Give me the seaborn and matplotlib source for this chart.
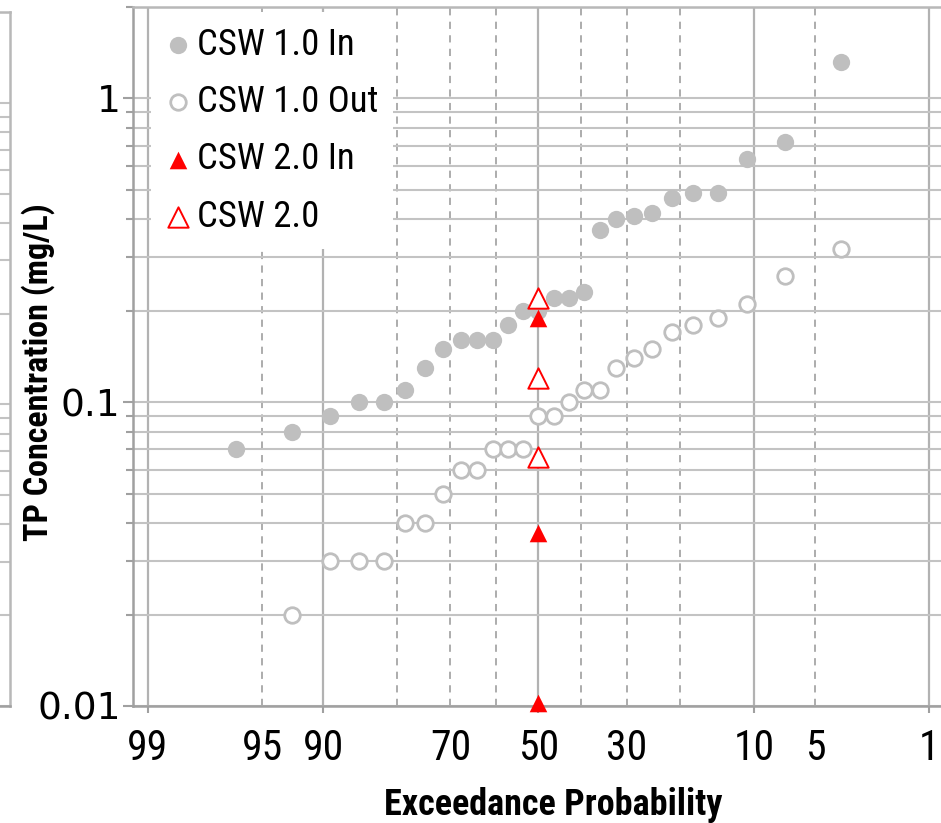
from statistics import NormalDist

import matplotlib.pyplot as plt
import matplotlib.ticker as mticker
import numpy as np
import pandas as pd
import seaborn as sns

# CSW 1.0 TP samples sorted low -> high (nan = below the plotted range)
csw1_in = [0.07, 0.08, 0.09, 0.10, 0.10, 0.11, 0.13, 0.15, 0.16, 0.16, 0.16, 0.18, 0.20, 0.20,
           0.22, 0.22, 0.23, 0.37, 0.40, 0.41, 0.42, 0.47, 0.49, 0.49, 0.63, 0.72, 1.32]
csw1_out = [np.nan, 0.02, 0.03, 0.03, 0.03, 0.04, 0.04, 0.05, 0.06, 0.06, 0.07, 0.07, 0.07, 0.09,
            0.09, 0.10, 0.11, 0.11, 0.13, 0.14, 0.15, 0.17, 0.18, 0.19, 0.21, 0.26, 0.32]
# CSW 2.0 samples, all put at the median
csw2_in = [0.0102, 0.037, 0.19]
csw2_out = [0.066, 0.12, 0.22]
csw2_prob = [50, 50, 50]

prob_major = [99, 90, 50, 10, 1]
prob_minor = [95, 80, 70, 60, 40, 30, 20, 5]
prob_labels = [99, 95, 90, 70, 50, 30, 10, 5, 1]

GRAY = "#BFBFBF"
RED = "#FF0000"
GRID = "#C3C3C3"
AXIS = "#A0A0A0"

_norm = NormalDist()


def _z(v):
    if np.isnan(v):
        return np.nan
    v = min(max(v, 1e-6), 100 - 1e-6)
    return _norm.inv_cdf(v / 100)


def _p(v):
    if np.isnan(v):
        return np.nan
    return 100 * _norm.cdf(v)


prob_to_z = np.vectorize(_z, otypes=[float])
z_to_prob = np.vectorize(_p, otypes=[float])


def exceedance(values):
    # Weibull plotting position
    ranks = np.arange(1, len(values) + 1)
    return 100 * (1 - ranks / (len(values) + 1))


def fmt_prob(v, pos=None):
    return f"{v:g}" if round(v) in prob_labels else ""


def style_axes(a, major, minor):
    a.set_xscale("function", functions=(prob_to_z, z_to_prob))
    a.set_yscale("log")
    a.set_xlim(99.21, 0.79)
    a.set_ylim(0.01, 2)
    a.xaxis.set_major_locator(mticker.FixedLocator(major))
    a.xaxis.set_minor_locator(mticker.FixedLocator(minor))
    a.xaxis.set_major_formatter(mticker.FuncFormatter(fmt_prob))
    a.xaxis.set_minor_formatter(mticker.FuncFormatter(fmt_prob))
    a.yaxis.set_major_formatter(mticker.FuncFormatter(lambda v, pos: f"{v:g}"))
    a.yaxis.set_minor_formatter(mticker.NullFormatter())
    a.grid(which="both", axis="y", color=GRID, lw=1.5)
    a.grid(which="major", axis="x", color="#B2B2B2", lw=1.6)
    a.grid(which="minor", axis="x", color="#A6A6A6", lw=1.3, ls=(0, (4, 3.5)))
    a.set_axisbelow(True)
    for side, sp in a.spines.items():
        sp.set_visible(True)
        sp.set_color(AXIS if side in ("left", "bottom") else "#B8B8B8")
        sp.set_linewidth(1.8)
    a.tick_params(axis="y", which="major", direction="out", length=7, width=1.5, color=AXIS,
                  left=True, labelsize=27, pad=2, labelcolor="black", labelfontfamily="DejaVu Sans")
    a.tick_params(axis="y", which="minor", direction="out", length=5, width=1.5, color=AXIS, left=True)
    a.tick_params(axis="x", which="major", direction="out", length=5, width=1.5, color=AXIS,
                  bottom=True, labelsize=30, pad=11, labelcolor="black")
    a.tick_params(axis="x", which="minor", length=0, bottom=True, labelsize=30, pad=16,
                  labelcolor="black")


sns.set_theme(style="white")
plt.rcParams["font.family"] = ["Roboto Condensed", "Liberation Sans Narrow", "Lato", "DejaVu Sans"]

W, H = 941, 823
fig = plt.figure(figsize=(W / 100, H / 100), dpi=100)
# neighbouring chart, cut off at the left edge of the screenshot
ax_prev = fig.add_axes([(133 - 934) / W, 1 - 706 / H, (944 - 133) / W, (706 - 12) / H])
ax = fig.add_axes([133 / W, 1 - 706 / H, (944 - 133) / W, (706 - 7) / H])

style_axes(ax_prev, [1], [])
ax_prev.tick_params(labelleft=False)
style_axes(ax, prob_major, prob_minor)

df_in = pd.DataFrame({"prob": exceedance(csw1_in), "conc": csw1_in})
df_out = pd.DataFrame({"prob": exceedance(csw1_out), "conc": csw1_out}).dropna()
df2_in = pd.DataFrame({"prob": csw2_prob, "conc": csw2_in})
df2_out = pd.DataFrame({"prob": csw2_prob, "conc": csw2_out})

sns.scatterplot(data=df_in, x="prob", y="conc", ax=ax, marker="o", s=155, color=GRAY,
                edgecolor=GRAY, linewidth=0, label="CSW 1.0 In", zorder=3)
sns.scatterplot(data=df_out, x="prob", y="conc", ax=ax, marker="o", s=125, facecolor="white",
                edgecolor=GRAY, linewidth=2.0, label="CSW 1.0 Out", zorder=3)
sns.scatterplot(data=df2_in, x="prob", y="conc", ax=ax, marker="^", s=160, color=RED,
                edgecolor=RED, linewidth=0, label="CSW 2.0 In", zorder=4, clip_on=False)
sns.scatterplot(data=df2_out, x="prob", y="conc", ax=ax, marker="^", s=215, facecolor="white",
                edgecolor=RED, linewidth=1.4, label="CSW 2.0", zorder=4)

ax.set_xlim(99.21, 0.79)
ax.set_ylim(0.01, 2)

ax.set_xlabel("Exceedance Probability", fontsize=26, fontweight="bold", color="black", va="center")
ax.xaxis.set_label_coords(0.518, -0.1416)
ax.set_ylabel("TP Concentration (mg/L)", fontsize=24.5, fontweight="bold", color="black", va="center")
ax.yaxis.set_label_coords(-0.117, 0.477)

leg = ax.legend(loc="upper left", bbox_to_anchor=(0.022, 0.993), borderaxespad=0, frameon=True,
                fancybox=False, framealpha=1, facecolor="white", edgecolor="none", fontsize=26.5,
                handlelength=0.7, handletextpad=0.15, labelspacing=0.58, borderpad=0.4)
for t in leg.get_texts():
    t.set_color("black")

fig.savefig("out.png", dpi=100)
